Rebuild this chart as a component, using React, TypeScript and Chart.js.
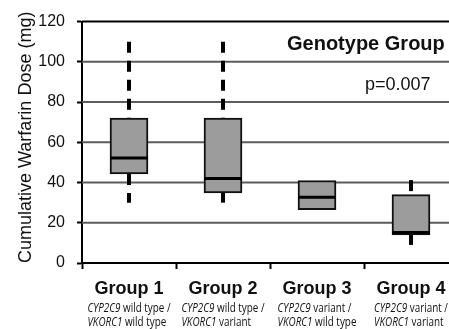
import React, { useEffect, useRef } from "react";
import { Chart, registerables } from "chart.js";

Chart.register(...registerables);

const categories = ["Group 1", "Group 2", "Group 3", "Group 4"];
const cypStatus = ["wild type /", "wild type /", "variant /", "variant /"];
const vkStatus = ["wild type", "variant", "wild type", "variant"];
const whiskerLow = [30, 30, 26.5, 9];
const q1 = [44.3, 34.8, 26.5, 14];
const median = [52.2, 42, 32.7, 15.2];
const q3 = [72, 72, 41, 34];
const whiskerHigh = [110, 110, 41, 41.2];
const gridValues = [20, 40, 60, 80, 100];
const yMin = 0;
const yMax = 120;
const yStep = 20;
const yTitle = "Cumulative Warfarin Dose (mg)";
const panelTitle = "Genotype Group";
const pText = "p=0.007";

const SANS = "'Liberation Sans', Arial, Helvetica, sans-serif";
const SMALL = "'Open Sans', 'Liberation Sans', sans-serif";

const boxPlugin = {
  id: "boxExtras",
  beforeDatasetsDraw(chart: any) {
    const ctx = chart.ctx;
    const xs = chart.scales.x;
    const ys = chart.scales.y;
    const area = chart.chartArea;
    ctx.save();
    ctx.setLineDash([]);
    ctx.globalAlpha = 1;
    // horizontal gridlines
    gridValues.forEach((v) => {
      const y = ys.getPixelForValue(v);
      ctx.strokeStyle = "#5c5c5c";
      ctx.lineWidth = 2;
      ctx.beginPath();
      ctx.moveTo(area.left, y);
      ctx.lineTo(area.right, y);
      ctx.stroke();
    });
    ctx.strokeStyle = "#000";
    ctx.lineWidth = 2;
    ctx.beginPath();
    ctx.moveTo(area.left, ys.getPixelForValue(yMax));
    ctx.lineTo(area.right, ys.getPixelForValue(yMax));
    ctx.stroke();
    // whiskers
    ctx.strokeStyle = "#000";
    ctx.lineWidth = 4;
    ctx.lineCap = "butt";
    ctx.setLineDash([11, 8]);
    categories.forEach((_, i) => {
      const x = xs.getPixelForValue(i);
      if (whiskerHigh[i] > q3[i]) {
        ctx.beginPath();
        ctx.moveTo(x, ys.getPixelForValue(whiskerHigh[i]));
        ctx.lineTo(x, ys.getPixelForValue(q3[i]));
        ctx.stroke();
      }
      if (whiskerLow[i] < q1[i]) {
        ctx.beginPath();
        ctx.moveTo(x, ys.getPixelForValue(q1[i]));
        ctx.lineTo(x, ys.getPixelForValue(whiskerLow[i]));
        ctx.stroke();
      }
    });
    ctx.restore();
  },
  afterDatasetsDraw(chart: any) {
    const ctx = chart.ctx;
    const xs = chart.scales.x;
    const ys = chart.scales.y;
    const meta = chart.getDatasetMeta(0);
    ctx.save();
    ctx.setLineDash([]);
    ctx.strokeStyle = "#000";
    ctx.lineWidth = 3;
    categories.forEach((_, i) => {
      const bar = meta.data[i];
      const half = bar.width / 2;
      const x = xs.getPixelForValue(i);
      const y = ys.getPixelForValue(median[i]);
      ctx.beginPath();
      ctx.moveTo(x - half, y);
      ctx.lineTo(x + half, y);
      ctx.stroke();
    });
    ctx.restore();
  },
  afterDraw(chart: any) {
    const ctx = chart.ctx;
    const area = chart.chartArea;
    const xs = chart.scales.x;
    ctx.save();
    ctx.fillStyle = "#111";
    // y-axis title
    ctx.save();
    ctx.translate(26, (area.top + area.bottom) / 2 - 5);
    ctx.rotate(-Math.PI / 2);
    ctx.font = `18px ${SANS}`;
    ctx.textAlign = "center";
    ctx.textBaseline = "middle";
    ctx.fillText(yTitle, 0, 0);
    ctx.restore();
    // panel annotations
    ctx.textBaseline = "alphabetic";
    ctx.textAlign = "left";
    ctx.font = `bold 20px ${SANS}`;
    ctx.fillText(panelTitle, area.left + 205, area.top + 28);
    ctx.font = `18px ${SANS}`;
    ctx.fillText(pText, area.left + 283, area.top + 68);
    // category labels
    const squeeze = 0.76;
    categories.forEach((c, i) => {
      const x = xs.getPixelForValue(i);
      ctx.textAlign = "center";
      ctx.font = `bold 18px ${SANS}`;
      ctx.fillText(c, x, area.bottom + 31);
      ctx.textAlign = "left";
      const itFont = `italic 13px ${SMALL}`;
      const rgFont = `13px ${SMALL}`;
      ctx.font = itFont;
      const w1a = ctx.measureText("CYP2C9").width;
      const w2a = ctx.measureText("VKORC1").width;
      ctx.font = rgFont;
      const w1b = ctx.measureText(" " + cypStatus[i]).width;
      const w2b = ctx.measureText(" " + vkStatus[i]).width;
      const wMax = Math.max(w1a + w1b, w2a + w2b) * squeeze;
      const left = x - wMax / 2;
      ctx.save();
      ctx.translate(left, 0);
      ctx.scale(squeeze, 1);
      ctx.font = itFont;
      ctx.fillText("CYP2C9", 0, area.bottom + 49);
      ctx.fillText("VKORC1", 0, area.bottom + 63);
      ctx.font = rgFont;
      ctx.fillText(" " + cypStatus[i], w1a, area.bottom + 49);
      ctx.fillText(" " + vkStatus[i], w2a, area.bottom + 63);
      ctx.restore();
    });
    ctx.restore();
  },
};

export default function App() {
  const ref = useRef<HTMLCanvasElement>(null);
  useEffect(() => {
    document.body.style.overflow = "hidden";
    const chart = new Chart(ref.current as HTMLCanvasElement, {
      type: "bar",
      data: {
        labels: categories,
        datasets: [
          {
            data: q1.map((v, i) => [v, q3[i]]) as any,
            backgroundColor: "#9c9c9c",
            borderColor: "#111",
            borderWidth: 2,
            borderSkipped: false,
            barThickness: 38,
          },
        ],
      },
      options: {
        animation: false,
        responsive: false,
        devicePixelRatio: 1,
        layout: { padding: { top: 17, right: 22, left: 0, bottom: 0 } },
        plugins: { legend: { display: false }, tooltip: { enabled: false } },
        scales: {
          x: {
            type: "category",
            offset: true,
            grid: {
              display: true,
              drawOnChartArea: false,
              drawTicks: true,
              tickLength: 6,
              tickColor: "#000",
              tickWidth: 2,
              color: "#000",
            },
            ticks: { display: false },
            border: { color: "#000", width: 2 },
            afterFit: (s: any) => {
              s.height = 66;
            },
          },
          y: {
            min: yMin,
            max: yMax,
            ticks: {
              stepSize: yStep,
              color: "#111",
              font: { family: SANS, size: 16 },
              padding: 12,
            },
            grid: {
              display: true,
              drawOnChartArea: false,
              drawTicks: true,
              tickColor: "#000",
              tickLength: 5,
              tickWidth: 2,
            },
            border: { color: "#000", width: 2 },
            afterFit: (s: any) => {
              s.width = 82;
            },
          },
        },
      },
      plugins: [boxPlugin],
    });
    return () => chart.destroy();
  }, []);
  return (
    <div
      style={{
        position: "fixed",
        left: 0,
        top: 0,
        width: 449,
        height: 329,
        overflow: "hidden",
        background: "#fff",
      }}
    >
      <canvas ref={ref} width={480} height={329} style={{ display: "block", width: 480, height: 329 }} />
    </div>
  );
}
